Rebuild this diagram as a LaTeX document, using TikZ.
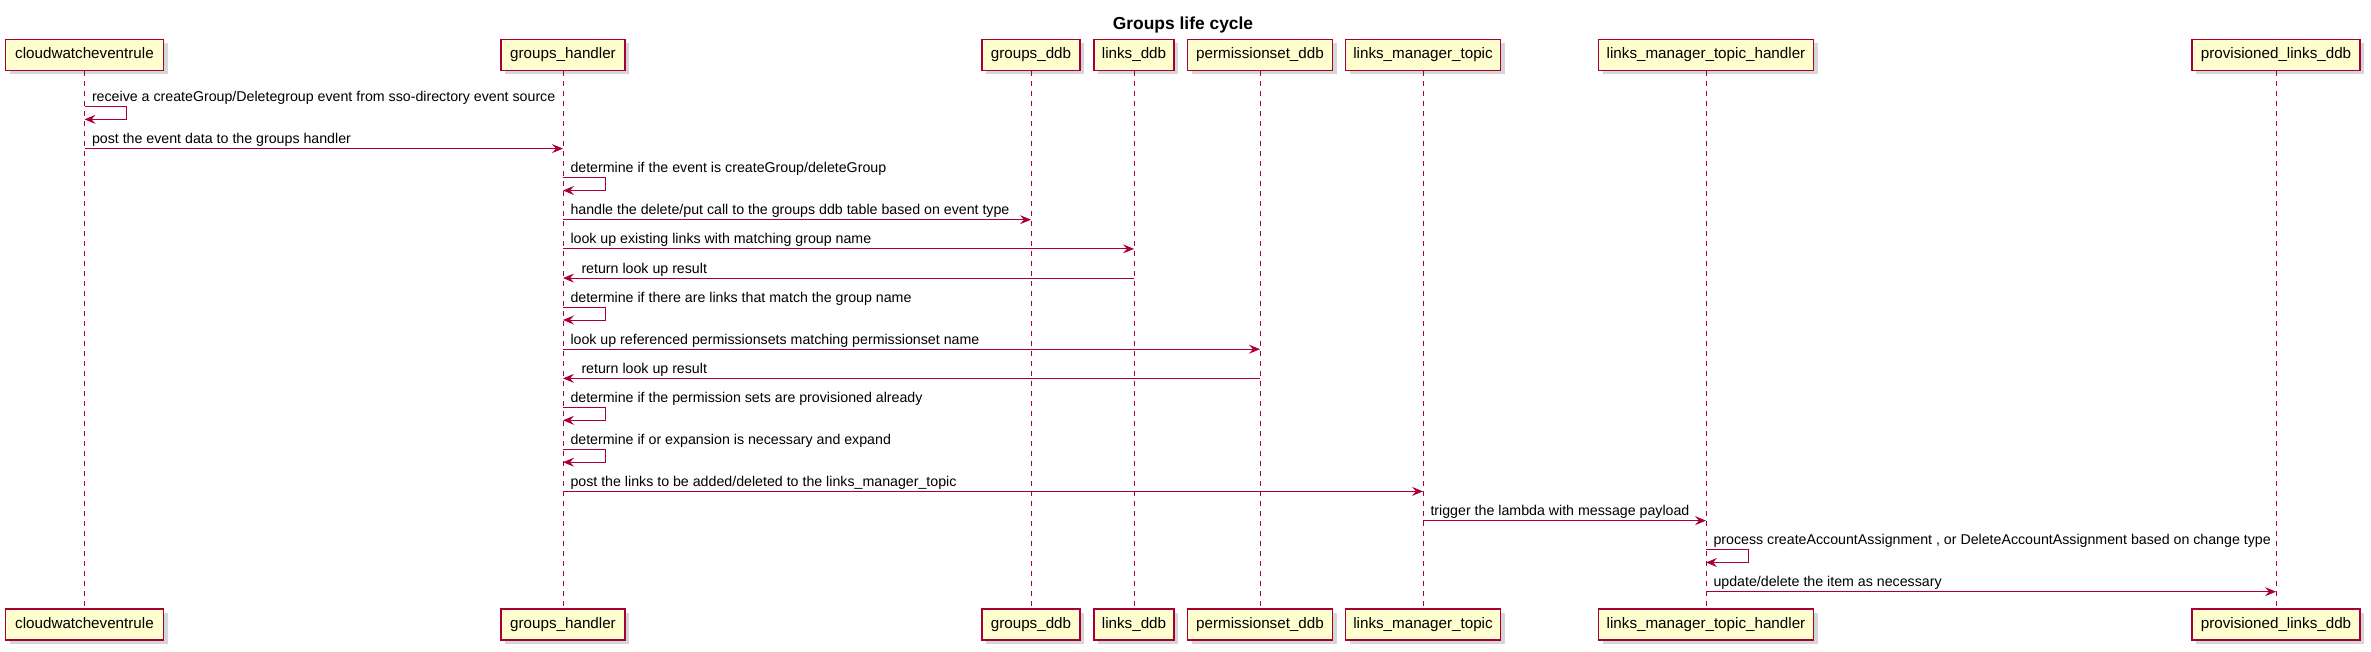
\documentclass[tikz,border=0pt]{standalone}
\usepackage{fontspec}
\setmainfont{Liberation Sans}
\usetikzlibrary{arrows.meta,shadows}
\definecolor{pumlred}{HTML}{A80036}
\definecolor{pumlfill}{HTML}{FEFECE}
\begin{document}
\begin{tikzpicture}[x=1pt,y=-1pt,
  part/.style={draw=pumlred, line width=1.5pt, fill=pumlfill, minimum height=31pt,
    inner sep=0pt, text height=11pt, text depth=3.5pt,
    font=\fontsize{15.2}{18}\selectfont,
    drop shadow={shadow xshift=4pt, shadow yshift=-4pt, fill=black!45, opacity=0.35}},
  life/.style={draw=pumlred, line width=1pt, dash pattern=on 5pt off 5pt},
  msg/.style={draw=pumlred, line width=1pt, -{Stealth[length=11pt,width=9pt,inset=4pt]}},
  lbl/.style={font=\fontsize{14.2}{17}\selectfont, inner sep=0pt, anchor=base west, text=black},
]
\useasboundingbox (0,0) rectangle (2371,652);
\fill[white] (0,0) rectangle (2371,652);

\node[font=\bfseries\fontsize{17.4}{20}\selectfont, anchor=base, inner sep=0pt] (title) at (1183,29.3) {Groups life cycle};

% participants top
\node[part, minimum width=158pt] (cwT) at (84.5,55) {cloudwatcheventrule};
\node[part, minimum width=124pt] (ghT) at (563,55) {groups\_handler};
\node[part, minimum width=98pt]  (gdT) at (1031,55) {groups\_ddb};
\node[part, minimum width=80pt]  (ldT) at (1134,55) {links\_ddb};
\node[part, minimum width=145pt] (pdT) at (1260,55) {permissionset\_ddb};
\node[part, minimum width=155pt] (ltT) at (1423,55) {links\_manager\_topic};
\node[part, minimum width=215pt] (lhT) at (1706,55) {links\_manager\_topic\_handler};
\node[part, minimum width=168pt] (plT) at (2276,55) {provisioned\_links\_ddb};
% participants bottom
\node[part, minimum width=158pt] (cwB) at (84.5,624.5) {cloudwatcheventrule};
\node[part, minimum width=124pt] (ghB) at (563,624.5) {groups\_handler};
\node[part, minimum width=98pt]  (gdB) at (1031,624.5) {groups\_ddb};
\node[part, minimum width=80pt]  (ldB) at (1134,624.5) {links\_ddb};
\node[part, minimum width=145pt] (pdB) at (1260,624.5) {permissionset\_ddb};
\node[part, minimum width=155pt] (ltB) at (1423,624.5) {links\_manager\_topic};
\node[part, minimum width=215pt] (lhB) at (1706,624.5) {links\_manager\_topic\_handler};
\node[part, minimum width=168pt] (plB) at (2276,624.5) {provisioned\_links\_ddb};

% lifelines
\foreach \p in {cw,gh,gd,ld,pd,lt,lh,pl}{
  \draw[life] (\p T.south) -- (\p B.north);
}

% rows
\coordinate (r1) at (0,106.7);  \coordinate (r1b) at (0,119.4);
\coordinate (r2) at (0,148.6);
\coordinate (r3) at (0,177.8);  \coordinate (r3b) at (0,190.5);
\coordinate (r4) at (0,219.7);
\coordinate (r5) at (0,248.9);
\coordinate (r6) at (0,278.1);
\coordinate (r7) at (0,307.3);  \coordinate (r7b) at (0,320.0);
\coordinate (r8) at (0,349.2);
\coordinate (r9) at (0,378.4);
\coordinate (r10) at (0,407.6); \coordinate (r10b) at (0,420.3);
\coordinate (r11) at (0,449.5); \coordinate (r11b) at (0,462.2);
\coordinate (r12) at (0,491.4);
\coordinate (r13) at (0,520.6);
\coordinate (r14) at (0,549.8); \coordinate (r14b) at (0,562.5);
\coordinate (r15) at (0,591.7);

% messages
\draw[msg] (cwT |- r1) node[lbl, xshift=7pt, yshift=5pt] {receive a createGroup/Deletegroup event from sso-directory event source}
  -- ++(42,0) -- ++(0,12.7) -- (cwT |- r1b);
\draw[msg] (cwT |- r2) node[lbl, xshift=7pt, yshift=5pt] {post the event data to the groups handler} -- (ghT |- r2);
\draw[msg] (ghT |- r3) node[lbl, xshift=7pt, yshift=5pt] {determine if the event is createGroup/deleteGroup}
  -- ++(42,0) -- ++(0,12.7) -- (ghT |- r3b);
\draw[msg] (ghT |- r4) node[lbl, xshift=7pt, yshift=5pt] {handle the delete/put call to the groups ddb table based on event type} -- (gdT |- r4);
\draw[msg] (ghT |- r5) node[lbl, xshift=7pt, yshift=5pt] {look up existing links with matching group name} -- (ldT |- r5);
\draw[msg] (ldT |- r6) -- (ghT |- r6) node[lbl, xshift=18pt, yshift=5pt] {return look up result};
\draw[msg] (ghT |- r7) node[lbl, xshift=7pt, yshift=5pt] {determine if there are links that match the group name}
  -- ++(42,0) -- ++(0,12.7) -- (ghT |- r7b);
\draw[msg] (ghT |- r8) node[lbl, xshift=7pt, yshift=5pt] {look up referenced permissionsets matching permissionset name} -- (pdT |- r8);
\draw[msg] (pdT |- r9) -- (ghT |- r9) node[lbl, xshift=18pt, yshift=5pt] {return look up result};
\draw[msg] (ghT |- r10) node[lbl, xshift=7pt, yshift=5pt] {determine if the permission sets are provisioned already}
  -- ++(42,0) -- ++(0,12.7) -- (ghT |- r10b);
\draw[msg] (ghT |- r11) node[lbl, xshift=7pt, yshift=5pt] {determine if or expansion is necessary and expand}
  -- ++(42,0) -- ++(0,12.7) -- (ghT |- r11b);
\draw[msg] (ghT |- r12) node[lbl, xshift=7pt, yshift=5pt] {post the links to be added/deleted to the links\_manager\_topic} -- (ltT |- r12);
\draw[msg] (ltT |- r13) node[lbl, xshift=7pt, yshift=5pt] {trigger the lambda with message payload} -- (lhT |- r13);
\draw[msg] (lhT |- r14) node[lbl, xshift=7pt, yshift=5pt] {process createAccountAssignment , or DeleteAccountAssignment based on change type}
  -- ++(42,0) -- ++(0,12.7) -- (lhT |- r14b);
\draw[msg] (lhT |- r15) node[lbl, xshift=7pt, yshift=5pt] {update/delete the item as necessary} -- (plT |- r15);
\end{tikzpicture}
\end{document}
